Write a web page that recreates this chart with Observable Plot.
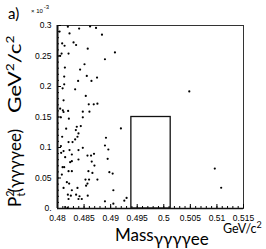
<!DOCTYPE html>
<html><head><meta charset="utf-8">
<script src="https://cdn.jsdelivr.net/npm/d3@7"></script>
<script src="https://cdn.jsdelivr.net/npm/@observablehq/plot@0.6"></script>
<style>
html,body{margin:0;padding:0;background:#fff;}
#chart{position:relative;width:266px;height:249px;overflow:hidden;}
</style></head>
<body><div id="chart"></div>
<script>
// mass (GeV/c^2) of gamma-gamma-gamma-gamma-e-e candidates
const mass = [0.48195,0.48407,0.48613,0.48725,0.48226,0.48837,0.48039,0.48088,0.48133,0.48302,0.4835,0.48569,0.49081,0.48077,0.48208,0.4805,0.48893,0.48508,0.48139,0.48425,0.48551,0.48744,0.48126,0.48388,0.48639,0.48126,0.48096,0.48332,0.48532,0.48114,0.48588,0.48682,0.48751,0.48101,0.48114,0.482,0.48476,0.48601,0.4805,
0.48064,0.48214,0.48476,0.48163,0.48363,0.48438,0.48345,0.48395,0.49193,0.48088,0.48376,0.48912,0.48332,0.48208,0.48283,0.48064,0.48893,0.48957,0.48114,0.48226,0.48069,0.4827,0.48395,0.48476,0.48564,0.48631,0.48687,0.48144,0.48238,0.4827,0.48395,0.48944,0.48644,0.48695,0.48096,0.48126,0.4827,0.48208,0.48582,0.48657,0.48976,0.49038,0.48082,0.48526,0.48594,0.48751,0.48564,0.48538,0.48176,0.48219,0.48114,0.48376,0.4827,0.49051,0.48195,0.48251,0.4835,0.48414,0.48569,0.48208,0.48395,0.48457,0.493,0.49257,0.48893,0.49051,0.48144,0.48189,
0.5048,0.5096,0.5108];
// pt^2 in units of 1e-3 GeV^2/c^2
const pt2 = [0.298,0.295,0.2985,0.296,0.287,0.285,0.290,0.2706,0.2668,0.2722,0.268,0.262,0.2558,0.254,0.254,0.2503,0.2447,0.2365,0.231,0.2278,0.2174,0.2146,0.2163,0.2092,0.2092,0.2036,0.197,0.1954,0.1845,0.1773,0.1707,0.1707,0.1719,0.1609,0.1582,0.1599,0.1587,0.1587,0.1637,
0.1494,0.1472,0.1494,0.1308,0.134,0.1352,0.1286,0.123,0.1313,0.1176,0.1176,0.116,0.1132,0.1089,0.1089,0.1023,0.1033,0.0967,0.0941,0.0957,0.0913,0.0885,0.0957,0.0995,0.0868,0.0868,0.0896,0.0842,0.076,0.0776,0.0803,0.0814,0.077,0.0704,0.0678,0.0678,0.0612,0.0612,0.0612,0.0584,0.0595,0.0572,0.0556,0.0474,0.0474,0.0474,0.0408,0.0375,0.0431,0.0408,0.0337,0.0337,0.0299,0.0299,0.0227,0.0211,0.0227,0.0201,0.0211,0.0156,0.0156,0.0156,0.0173,0.0128,0.0118,0.0079,0.0025,0.0008,
0.192,0.0655,0.034];
// signal box
const windowLow = 0.4939, windowHigh = 0.5013, ptCut = 0.15;
// ticks
const xTicks = [0.48,0.485,0.49,0.495,0.5,0.505,0.51,0.515];
const xTickLabels = ["0.48","0.485","0.49","0.495","0.5","0.505","0.51","0.515"];
const yTicks = [0,0.05,0.1,0.15,0.2,0.25,0.3];
const yTickLabels = ["0.","0.05","0.1","0.15","0.2","0.25","0.3"];
const xMinor = d3.range(0,36).map(i => +(0.48 + i*0.001).toFixed(4));
const yMinor = d3.range(0,31).map(i => +(i*0.01).toFixed(3));

const pts = mass.map((m,i) => ({m, p: pt2[i]}));
const box = [{x1: windowLow, x2: windowHigh, y1: 0, y2: ptCut}];

const tickFont = "Liberation Sans, Arial, sans-serif";
const plot = Plot.plot({
  width: 266, height: 249,
  marginLeft: 57, marginRight: 23, marginTop: 25, marginBottom: 41,
  style: {fontFamily: tickFont, fontSize: "8.5px", color: "#000", background: "#fff"},
  x: {domain: [0.48, 0.515]},
  y: {domain: [0, 0.3]},
  marks: [
    Plot.frame({stroke: "#333", strokeWidth: 1}),
    Plot.axisX(xMinor, {tickSize: -2, tickFormat: () => "", label: null, tickPadding: 0}),
    Plot.axisY(yMinor, {tickSize: -2, tickFormat: () => "", label: null, tickPadding: 0}),
    Plot.axisX(xTicks, {tickSize: -4, tickPadding: 10, label: null,
      tickFormat: (d) => xTickLabels[xTicks.indexOf(d)]}),
    Plot.axisY(yTicks, {tickSize: -4, tickPadding: 10, label: null,
      tickFormat: (d) => yTickLabels[yTicks.indexOf(d)]}),
    Plot.ruleX([0.48], {stroke: "#111", strokeWidth: 2}),
    Plot.ruleY([0], {stroke: "#111", strokeWidth: 1.5}),
    Plot.rect(box, {x1: "x1", x2: "x2", y1: "y1", y2: "y2", fill: "none", stroke: "#111", strokeWidth: 1.3}),
    Plot.dot(pts, {x: "m", y: "p", r: 1.1, fill: "#000", stroke: "none"})
  ]
});
document.getElementById("chart").appendChild(plot);

const svg = d3.select(plot);
const lab = "Lato, 'Open Sans', sans-serif";
svg.append("text").attr("x", 8).attr("y", 19).attr("text-anchor", "start").attr("font-family", lab).attr("font-size", 15).text("a)");
const m3 = svg.append("text").attr("x", 31).attr("y", 13).attr("text-anchor", "start").attr("font-family", tickFont).attr("font-size", 6);
m3.append("tspan").text("\u00d7 10");
m3.append("tspan").attr("dy", -4).attr("dx", 1).text("-3");

// Y label
const yl = svg.append("text").attr("transform", "translate(21,207) rotate(-90)").attr("text-anchor", "start")
  .attr("font-family", lab).attr("font-size", 17).attr("fill", "#000");
yl.append("tspan").text("P");
yl.append("tspan").attr("font-size", 11).attr("dy", -7).text("2");
yl.append("tspan").attr("font-size", 11).attr("dx", -6).attr("dy", 11).text("t");
yl.append("tspan").attr("dy", -4).text("(\u03b3\u03b3\u03b3\u03b3ee)");
const yl2 = svg.append("text").attr("transform", "translate(21,113) rotate(-90) scale(1.25,1)").attr("text-anchor", "start")
  .attr("font-family", lab).attr("font-size", 18).attr("fill", "#000");
yl2.append("tspan").text("GeV");
yl2.append("tspan").attr("font-size", 11).attr("dy", -7).text("2");
yl2.append("tspan").attr("dy", 7).text("/c");
yl2.append("tspan").attr("font-size", 11).attr("dy", -7).text("2");

// X label
const xl = svg.append("text").attr("x", 115).attr("y", 241).attr("text-anchor", "start").attr("font-family", lab).attr("font-size", 17).attr("fill", "#000");
xl.append("tspan").text("Mass");
xl.append("tspan").attr("dy", 4).text("\u03b3\u03b3\u03b3\u03b3ee");
const gu = svg.append("text").attr("x", 223).attr("y", 233).attr("text-anchor", "start").attr("font-family", lab).attr("font-size", 12.5).attr("fill", "#000");
gu.append("tspan").text("GeV/c");
gu.append("tspan").attr("font-size", 9).attr("dy", -5).text("2");
</script></body></html>
